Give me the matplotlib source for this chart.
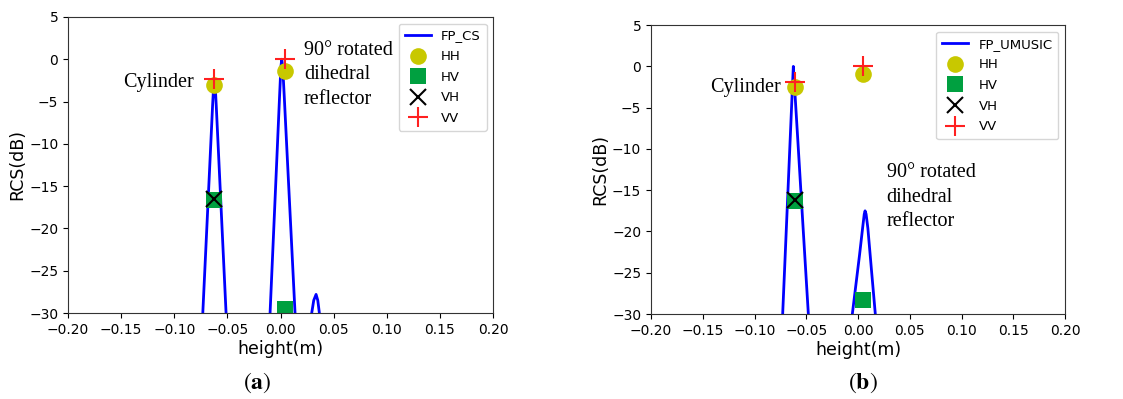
import matplotlib
matplotlib.use("Agg")
import matplotlib.pyplot as plt

# ---- data ----
# (a) FP_CS profile (values below -30 dB fall outside the axes)
cs_height = [-0.200, -0.0900,
             -0.0770, -0.0732, -0.0700, -0.0665, -0.0640, -0.0630, -0.0623,
             -0.0615, -0.0605, -0.0580, -0.0545, -0.0513, -0.0480,
             -0.0300,
             -0.0130, -0.0099, -0.0065, -0.0035, -0.0010, 0.0003, 0.0011,
             0.0020, 0.0035, 0.0065, 0.0100, 0.0136, 0.0170,
             0.0220,
             0.0260, 0.0293, 0.0312, 0.0334, 0.0350, 0.0365, 0.0400,
             0.0600, 0.200]
cs_rcs = [-60, -50,
          -38, -30, -21.5, -12.2, -5.5, -3.2, -2.3,
          -3.2, -5.6, -12.2, -21.5, -30, -38,
          -50,
          -38, -30, -20.3, -11.7, -4.5, -0.9, 0.0,
          -0.9, -4.5, -12.1, -20.9, -30, -38,
          -45,
          -38, -30, -28.5, -27.8, -28.5, -30, -38,
          -50, -60]

# (b) FP_UMUSIC profile
mu_height = [-0.200, -0.0900,
             -0.0760, -0.0728, -0.0690, -0.0655, -0.0632, -0.0625,
             -0.0615, -0.0580, -0.0530, -0.0480, -0.0440,
             -0.0300,
             -0.0090, -0.0055, -0.0020, 0.0015, 0.0045, 0.0060, 0.0068,
             0.0078, 0.0095, 0.0130, 0.0167, 0.0200,
             0.0400, 0.200]
mu_rcs = [-60, -50,
          -39, -30, -18.9, -8.7, -2.0, 0.0,
          -2.1, -9.3, -19.7, -30, -38,
          -50,
          -38, -30, -26.4, -22.8, -19.5, -17.9, -17.5,
          -17.9, -19.6, -24.7, -30, -35,
          -50, -60]

pol_labels = ["HH", "HV", "VH", "VV"]
# target heights (cylinder, dihedral)
cs_target_h = [-0.063, 0.0045]
mu_target_h = [-0.0607, 0.0047]
cs_pol = {"HH": [-3.0, -1.4], "HV": [-16.6, -29.5], "VH": [-16.5, -45.0], "VV": [-2.35, 0.0]}
mu_pol = {"HH": [-2.55, -0.95], "HV": [-16.25, -28.3], "VH": [-16.2, -45.0], "VV": [-1.85, 0.0]}

xticks = [-0.20, -0.15, -0.10, -0.05, 0.00, 0.05, 0.10, 0.15, 0.20]
yticks = [5, 0, -5, -10, -15, -20, -25, -30]

marker_style = {
    "HH": dict(marker="o", color="#c8c800", markersize=12, markeredgewidth=0),
    "HV": dict(marker="s", color="#00a040", markersize=12, markeredgewidth=0),
    "VH": dict(marker="x", color="black", markersize=12, markeredgewidth=1.5),
    "VV": dict(marker="+", color="#ff2020", markersize=15, markeredgewidth=1.5),
}

plt.rcParams["mathtext.fontset"] = "stix"

fig = plt.figure(figsize=(11.23, 3.99), dpi=100)
ax_a = fig.add_axes([0.0606, 0.2155, 0.3785, 0.742])
ax_b = fig.add_axes([0.5797, 0.2130, 0.3687, 0.724])


def draw_panel(ax, height, rcs, line_label, target_h, pol):
    ax.plot(height, rcs, color="#0000ff", lw=2.0, label=line_label)
    for name in pol_labels:
        ax.plot(target_h, pol[name], linestyle="none", label=name, **marker_style[name])
    ax.set_xlim(-0.2, 0.2)
    ax.set_ylim(-30, 5)
    ax.set_xticks(xticks)
    ax.set_yticks(yticks)
    ax.set_xticklabels([f"{t:.2f}".replace("-", "\u2212") for t in xticks])
    ax.tick_params(labelsize=10)
    ax.set_xlabel("height(m)", fontsize=12.5, labelpad=2)
    ax.set_ylabel("RCS(dB)", fontsize=12.5, labelpad=2)
    ax.legend(loc="upper right", fontsize=9.5, handlelength=2.0, borderpad=0.45,
              labelspacing=0.58, handletextpad=0.75)
    for sp in ax.spines.values():
        sp.set_color("#333333")


draw_panel(ax_a, cs_height, cs_rcs, "FP_CS", cs_target_h, cs_pol)
draw_panel(ax_b, mu_height, mu_rcs, "FP_UMUSIC", mu_target_h, mu_pol)

serif = ["Liberation Serif", "DejaVu Serif"]
ax_a.text(-0.082, -2.8, "Cylinder", family=serif, fontsize=14.5, ha="right", va="center")
ax_a.text(0.022, 2.2, "90° rotated\ndihedral\nreflector", family=serif, fontsize=14.5,
          ha="left", va="top", linespacing=1.4)
ax_b.text(-0.0747, -2.5, "Cylinder", family=serif, fontsize=14.5, ha="right", va="center")
ax_b.text(0.0277, -11.7, "90° rotated\ndihedral\nreflector", family=serif, fontsize=14.5,
          ha="left", va="top", linespacing=1.4)

fig.text(0.229, 0.04, r"$(\mathbf{a})$", fontsize=17, ha="center", va="center")
fig.text(0.768, 0.04, r"$(\mathbf{b})$", fontsize=17, ha="center", va="center")

fig.savefig("out.png", dpi=100)
